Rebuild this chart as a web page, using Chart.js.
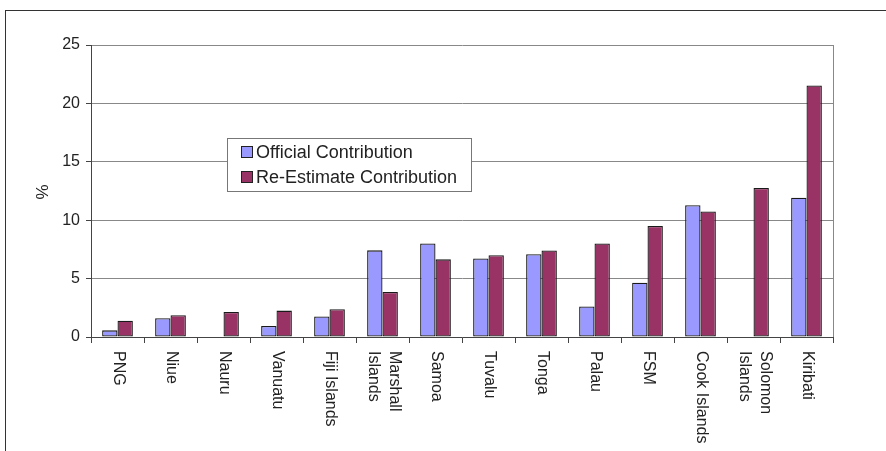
<!DOCTYPE html>
<html>
<head>
<meta charset="utf-8">
<script src="https://cdn.jsdelivr.net/npm/chart.js@4/dist/chart.umd.min.js"></script>
<style>
  html, body { margin: 0; padding: 0; background: #fff; }
  #wrap { width: 886px; height: 451px; }
</style>
</head>
<body>
<div id="wrap"><canvas id="contribChart" width="886" height="451"></canvas></div>
<script>
// Data
var countries = ['PNG', 'Niue', 'Nauru', 'Vanuatu', 'Fiji Islands', ['Marshall', 'Islands'], 'Samoa',
    'Tuvalu', 'Tonga', 'Palau', 'FSM', 'Cook Islands', ['Solomon', 'Islands'], 'Kiribati'];
var officialValues = [0.57, 1.6, null, 0.94, 1.75, 7.42, 8.0, 6.72, 7.09, 2.62, 4.64, 11.28, null, 11.93];
var reEstimateValues = [1.4, 1.86, 2.14, 2.26, 2.37, 3.85, 6.65, 7.0, 7.4, 8.0, 9.51, 10.74, 12.76, 21.54];
var yTicks = [0, 5, 10, 15, 20, 25];

var FONT = '"Liberation Sans", Arial, sans-serif';
var TEXT = '#222';

// frame, vertical x labels, % title, legend box
var decorPlugin = {
    id: 'decor',
    beforeDraw: function(chart) {
        var ctx = chart.ctx;
        ctx.save();
        ctx.fillStyle = '#fff';
        ctx.fillRect(0, 0, chart.width, chart.height);
        ctx.strokeStyle = '#333';
        ctx.lineWidth = 1;
        ctx.strokeRect(5.5, 10.5, 900, 500);
        ctx.restore();
    },
    afterDraw: function(chart) {
        var ctx = chart.ctx;
        var area = chart.chartArea;
        var xs = chart.scales.x;
        ctx.save();

        // right edge of plot
        ctx.strokeStyle = '#888';
        ctx.beginPath();
        ctx.moveTo(Math.round(area.right) + 0.5, area.top);
        ctx.lineTo(Math.round(area.right) + 0.5, area.bottom);
        ctx.stroke();

        // x labels, rotated clockwise
        ctx.font = '16px ' + FONT;
        ctx.fillStyle = TEXT;
        ctx.textAlign = 'left';
        ctx.textBaseline = 'middle';
        countries.forEach(function(lab, i) {
            var lines = Array.isArray(lab) ? lab : [lab];
            var x = xs.getPixelForValue(i) + 1;
            ctx.save();
            ctx.translate(x, 351);
            ctx.rotate(Math.PI / 2);
            lines.forEach(function(ln, j) {
                ctx.fillText(ln, 0, (j - (lines.length - 1) / 2) * 21);
            });
            ctx.restore();
        });

        // y title
        ctx.save();
        ctx.translate(43, 192);
        ctx.rotate(-Math.PI / 2);
        ctx.textAlign = 'center';
        ctx.font = '17px ' + FONT;
        ctx.fillText('%', 0, 0);
        ctx.restore();

        // legend
        var lx = 227, ly = 138, lw = 244, lh = 53;
        ctx.fillStyle = '#fff';
        ctx.fillRect(lx, ly, lw, lh);
        ctx.strokeStyle = '#777';
        ctx.strokeRect(lx + 0.5, ly + 0.5, lw, lh);
        ctx.font = '18px ' + FONT;
        ctx.textBaseline = 'middle';
        chart.data.datasets.forEach(function(ds, i) {
            var cy = 152 + i * 25;
            ctx.fillStyle = ds.backgroundColor;
            ctx.fillRect(241, cy - 6, 12, 12);
            ctx.strokeStyle = '#222';
            ctx.strokeRect(241.5, cy - 5.5, 11, 11);
            ctx.fillStyle = TEXT;
            ctx.fillText(ds.label, 256, cy + 1);
        });
        ctx.restore();
    }
};

var ctx = document.getElementById('contribChart').getContext('2d');
var chart = new Chart(ctx, {
    type: 'bar',
    data: {
        labels: countries,
        datasets: [
            {
                label: 'Official Contribution',
                data: officialValues,
                backgroundColor: '#9999ff',
                borderColor: '#1a1a1a',
                borderWidth: 1.3,
                borderSkipped: false
            },
            {
                label: 'Re-Estimate Contribution',
                data: reEstimateValues,
                backgroundColor: '#993366',
                borderColor: '#1a1a1a',
                borderWidth: 1.3,
                borderSkipped: false
            }
        ]
    },
    options: {
        responsive: false,
        animation: false,
        layout: {
            padding: { top: 45, right: 53, left: 0, bottom: 0 }
        },
        datasets: {
            bar: { categoryPercentage: 0.58, barPercentage: 1.0 }
        },
        plugins: {
            legend: { display: false },
            tooltip: { enabled: false }
        },
        scales: {
            x: {
                offset: true,
                grid: {
                    offset: true,
                    drawOnChartArea: false,
                    drawTicks: true,
                    tickLength: 6,
                    tickColor: '#444'
                },
                border: { color: '#444' },
                ticks: { display: false },
                afterFit: function(scale) { scale.height = 451 - 337; }
            },
            y: {
                min: 0,
                max: 25,
                afterBuildTicks: function(scale) {
                    scale.ticks = yTicks.map(function(v) { return { value: v }; });
                },
                grid: {
                    color: '#888',
                    tickLength: 5,
                    tickColor: '#444'
                },
                border: { color: '#444' },
                ticks: {
                    color: TEXT,
                    padding: 6,
                    font: { family: FONT, size: 16 }
                },
                afterFit: function(scale) { scale.width = 91; }
            }
        }
    },
    plugins: [decorPlugin]
});
</script>
</body>
</html>
